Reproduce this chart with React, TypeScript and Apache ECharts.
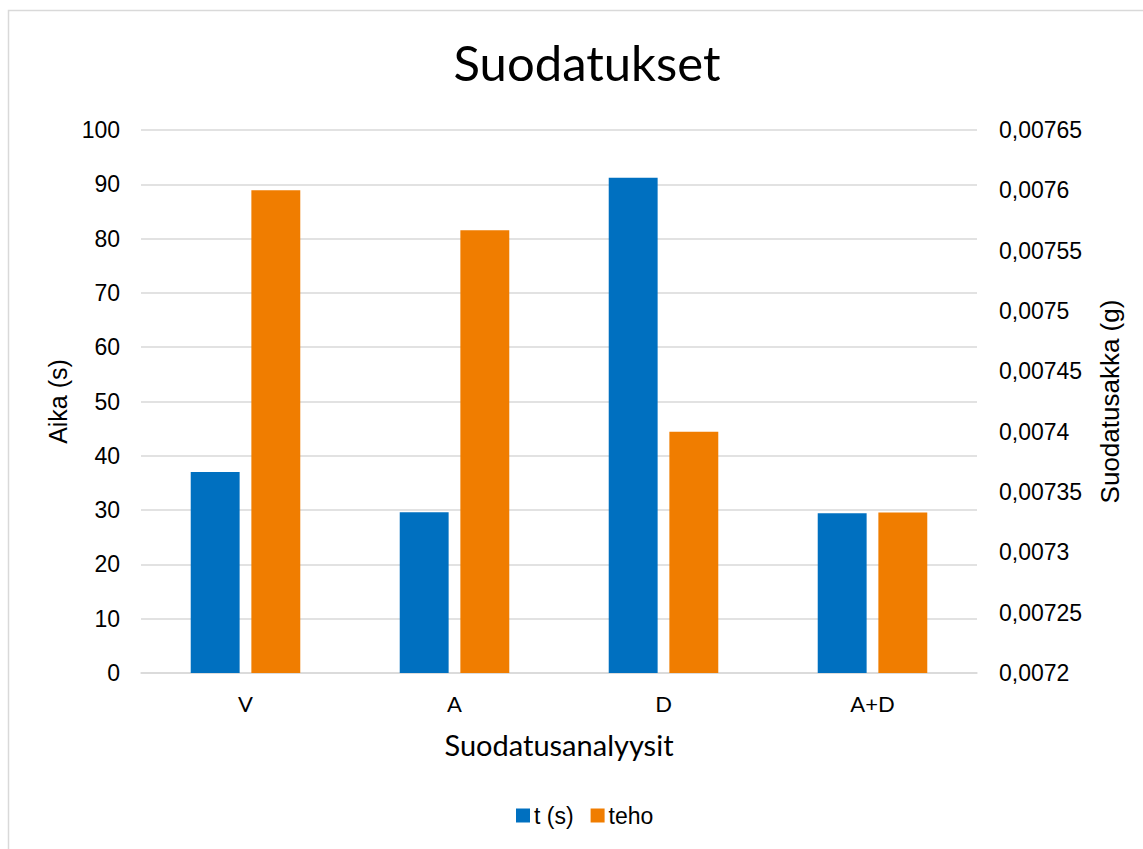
import React, { useEffect, useRef } from "react";
import * as echarts from "echarts";

const categories = ["V", "A", "D", "A+D"];
const timeValues = [37, 29.6, 91.2, 29.4];
const tehoValues = [0.0076, 0.007567, 0.0074, 0.007333];
const leftTicks = { min: 0, max: 100, interval: 10 };
const rightTicks = { min: 0.0072, max: 0.00765, interval: 0.00005 };

export default function App() {
  const ref = useRef<HTMLDivElement>(null);
  useEffect(() => {
    if (!ref.current) return;
    const chart = echarts.init(ref.current, undefined, { renderer: "svg" });
    const arial = "'Liberation Sans', Arial, sans-serif";
    const calibri = "Lato, 'Open Sans', sans-serif";
    chart.setOption({
      animation: false,
      backgroundColor: "#ffffff",
      title: {
        text: "Suodatukset",
        left: 582,
        top: 32,
        textAlign: "center",
        textStyle: { fontFamily: calibri, fontSize: 49, fontWeight: "normal", color: "#000" },
      },
      graphic: [
        {
          type: "rect",
          shape: { x: 8.5, y: 10.5, width: 1200, height: 900 },
          style: { fill: "none", stroke: "#D9D9D9", lineWidth: 1.5 },
          silent: true,
        },
      ],
      legend: {
        top: 804,
        left: 516,
        padding: 0,
        itemWidth: 14,
        itemHeight: 14,
        itemGap: 17,
        icon: "rect",
        textStyle: { fontFamily: arial, fontSize: 23, color: "#000", padding: [0, 0, 0, -1] },
        data: ["t (s)", "teho"],
      },
      grid: { left: 141, right: 166, top: 130, bottom: 176 },
      xAxis: {
        type: "category",
        data: categories,
        name: "Suodatusanalyysit",
        nameLocation: "middle",
        nameGap: 57,
        nameTextStyle: { fontFamily: calibri, fontSize: 29, color: "#000" },
        axisLine: { lineStyle: { color: "#D9D9D9", width: 1.5 } },
        axisTick: { show: false },
        axisLabel: { fontFamily: calibri, fontSize: 22, color: "#000", margin: 19 },
      },
      yAxis: [
        {
          type: "value",
          min: leftTicks.min,
          max: leftTicks.max,
          interval: leftTicks.interval,
          name: "Aika (s)",
          nameLocation: "middle",
          nameGap: 70,
          nameRotate: 90,
          nameTextStyle: { fontFamily: arial, fontSize: 25, color: "#000" },
          axisLabel: { fontFamily: arial, fontSize: 23, color: "#000", margin: 21 },
          splitLine: { lineStyle: { color: "#D9D9D9", width: 1.5 } },
          axisLine: { show: false },
          axisTick: { show: false },
        },
        {
          type: "value",
          min: rightTicks.min,
          max: rightTicks.max,
          interval: rightTicks.interval,
          name: "Suodatusakka (g)",
          nameLocation: "middle",
          nameGap: 120,
          nameRotate: 90,
          nameTextStyle: { fontFamily: arial, fontSize: 26, color: "#000" },
          axisLabel: {
            fontFamily: arial,
            fontSize: 23,
            color: "#000",
            margin: 22,
            formatter: (v: number) => String(Number(v.toFixed(6))).replace(".", ","),
          },
          splitLine: { show: false },
          axisLine: { show: false },
          axisTick: { show: false },
        },
      ],
      series: [
        {
          name: "t (s)",
          type: "bar",
          data: timeValues,
          yAxisIndex: 0,
          barWidth: "23.4%",
          barGap: "24%",
          itemStyle: { color: "#0070C0" },
        },
        {
          name: "teho",
          type: "bar",
          data: tehoValues,
          yAxisIndex: 1,
          barWidth: "23.4%",
          barGap: "24%",
          itemStyle: { color: "#F07D00" },
        },
      ],
    });
    return () => chart.dispose();
  }, []);
  return (
    <div
      ref={ref}
      style={{ position: "absolute", left: 0, top: 0, width: 1143, height: 849 }}
    />
  );
}
